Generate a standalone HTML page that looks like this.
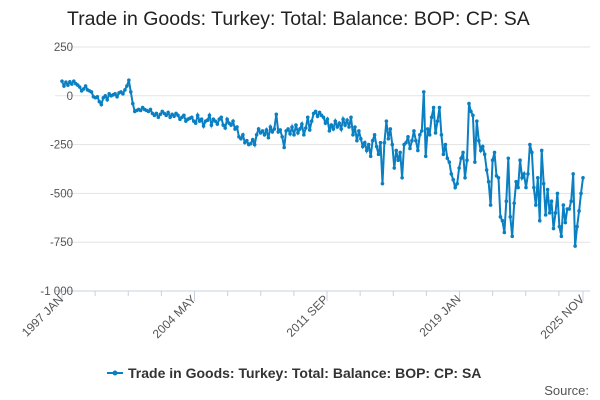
<!DOCTYPE html>
<html><head><meta charset="utf-8"><style>
body{margin:0;background:#fff;font-family:"Liberation Sans",sans-serif;}
#wrap{position:relative;width:600px;height:400px;overflow:hidden;}
</style></head><body>
<div id="wrap">
<svg id="chart" width="600" height="400">
<text x="67" y="25" font-size="19.5" fill="#222">Trade in Goods: Turkey: Total: Balance: BOP: CP: SA</text>
<g id="grid"></g>
<g id="yaxis"></g>
<g id="xaxis"></g>
<g id="series"></g>
<g>
<line x1="107" y1="373" x2="123" y2="373" stroke="#0a7fc2" stroke-width="2"/>
<circle cx="115" cy="373" r="2.5" fill="#0a7fc2"/>
<text x="128" y="378" font-size="14" font-weight="bold" fill="#333">Trade in Goods: Turkey: Total: Balance: BOP: CP: SA</text>
</g>
<text x="589" y="395" font-size="13" fill="#555" text-anchor="end">Source:</text>
</svg>
</div>
<script>
const yTicks=[250,0,-250,-500,-750,-1000];
const yTickLabels=["250","0","-250","-500","-750","-1 000"];
const xTickMonths=[0,88,176,264,346];
const xTickLabels=["1997 JAN","2004 MAY","2011 SEP","2019 JAN","2025 NOV"];
const startMonth=0,endMonth=346;
const values=[75,50,70,55,72,60,75,62,55,45,25,35,50,30,25,20,-5,-10,-5,-30,-45,-10,0,-20,10,0,5,10,-5,15,20,10,30,50,80,20,-40,-80,-75,-70,-75,-60,-70,-75,-80,-70,-90,-100,-90,-110,-95,-80,-90,-100,-85,-110,-95,-105,-90,-100,-120,-110,-100,-130,-120,-115,-110,-130,-140,-100,-130,-120,-155,-130,-125,-100,-150,-120,-130,-145,-120,-110,-150,-165,-120,-140,-150,-130,-170,-160,-210,-220,-200,-240,-230,-250,-245,-225,-250,-200,-170,-190,-180,-200,-175,-215,-160,-185,-170,-95,-185,-175,-210,-265,-180,-170,-195,-160,-200,-150,-190,-170,-145,-200,-165,-110,-175,-130,-90,-80,-105,-85,-100,-110,-140,-120,-180,-150,-170,-130,-160,-140,-170,-120,-150,-125,-160,-110,-200,-160,-230,-180,-220,-260,-240,-280,-250,-310,-230,-200,-260,-300,-240,-450,-240,-130,-220,-170,-250,-370,-280,-330,-290,-420,-250,-240,-210,-270,-230,-180,-230,-280,-200,-180,20,-310,-170,-200,-110,-60,-190,-130,-60,-200,-300,-250,-320,-340,-400,-430,-470,-450,-370,-320,-290,-420,-330,-40,-80,-100,-340,-130,-230,-280,-260,-300,-380,-440,-560,-330,-290,-410,-420,-620,-640,-700,-540,-320,-620,-720,-550,-440,-470,-330,-420,-400,-470,-400,-250,-290,-470,-560,-420,-640,-280,-450,-610,-480,-600,-540,-680,-600,-500,-670,-720,-560,-650,-580,-580,-540,-400,-770,-670,-590,-500,-420];
const NS="http://www.w3.org/2000/svg";
const X0=62,X1=583,Y0=291,Y1=47;
function xs(m){return X0+(m-startMonth)/(endMonth-startMonth)*(X1-X0);}
function ys(v){return Y0-(v-(-1000))/(1250)*(Y0-Y1);}
const grid=document.getElementById('grid'),ya=document.getElementById('yaxis'),xa=document.getElementById('xaxis'),ser=document.getElementById('series');
yTicks.forEach((t,i)=>{
 const l=document.createElementNS(NS,'line');
 l.setAttribute('x1',55);l.setAttribute('x2',590);l.setAttribute('y1',ys(t));l.setAttribute('y2',ys(t));
 l.setAttribute('stroke',t===-1000?'#c8d0e0':'#e3e3e3');l.setAttribute('stroke-width',1);
 
 
 grid.appendChild(l);
 const tx=document.createElementNS(NS,'text');
 tx.setAttribute('x',73);tx.setAttribute('y',ys(t)+4);tx.setAttribute('text-anchor','end');
 tx.setAttribute('font-size',11.5);tx.setAttribute('fill','#555');tx.textContent=yTickLabels[i];
 
 
 ya.appendChild(tx);
});
for(let m=0;m<=346;m+=22){
 const l=document.createElementNS(NS,'line');
 l.setAttribute('x1',xs(m));l.setAttribute('x2',xs(m));l.setAttribute('y1',Y0);l.setAttribute('y2',Y0+5);
 l.setAttribute('stroke','#c8d0e0');
 
 
 xa.appendChild(l);
}
xTickMonths.forEach((m,i)=>{
 const l=document.createElementNS(NS,'line');
 l.setAttribute('x1',xs(m));l.setAttribute('x2',xs(m));l.setAttribute('y1',Y0);l.setAttribute('y2',Y0+10);
 l.setAttribute('stroke','#c8d0e0');
 
 
 xa.appendChild(l);
 const tx=document.createElementNS(NS,'text');
 const x=xs(m)+2,y=Y0+9;
 tx.setAttribute('x',x);tx.setAttribute('y',y);tx.setAttribute('text-anchor','end');
 tx.setAttribute('font-size',12);tx.setAttribute('fill','#555');
 tx.setAttribute('transform','rotate(-45 '+x+' '+y+')');tx.textContent=xTickLabels[i];
 
 
 xa.appendChild(tx);
});
const n=values.length;
let d='';
values.forEach((v,i)=>{const m=startMonth+i*(endMonth-startMonth)/(n-1);d+=(i?'L':'M')+xs(m).toFixed(1)+' '+ys(v).toFixed(1);});
const p=document.createElementNS(NS,'path');
p.setAttribute('d',d);p.setAttribute('fill','none');p.setAttribute('stroke','#0a7fc2');p.setAttribute('stroke-width',2);


ser.appendChild(p);
values.forEach((v,i)=>{
 const m=startMonth+i*(endMonth-startMonth)/(n-1);
 const c=document.createElementNS(NS,'circle');
 c.setAttribute('cx',xs(m));c.setAttribute('cy',ys(v));c.setAttribute('r',1.8);c.setAttribute('fill','#0a7fc2');
 
 
 ser.appendChild(c);
});
</script>
</body></html>
